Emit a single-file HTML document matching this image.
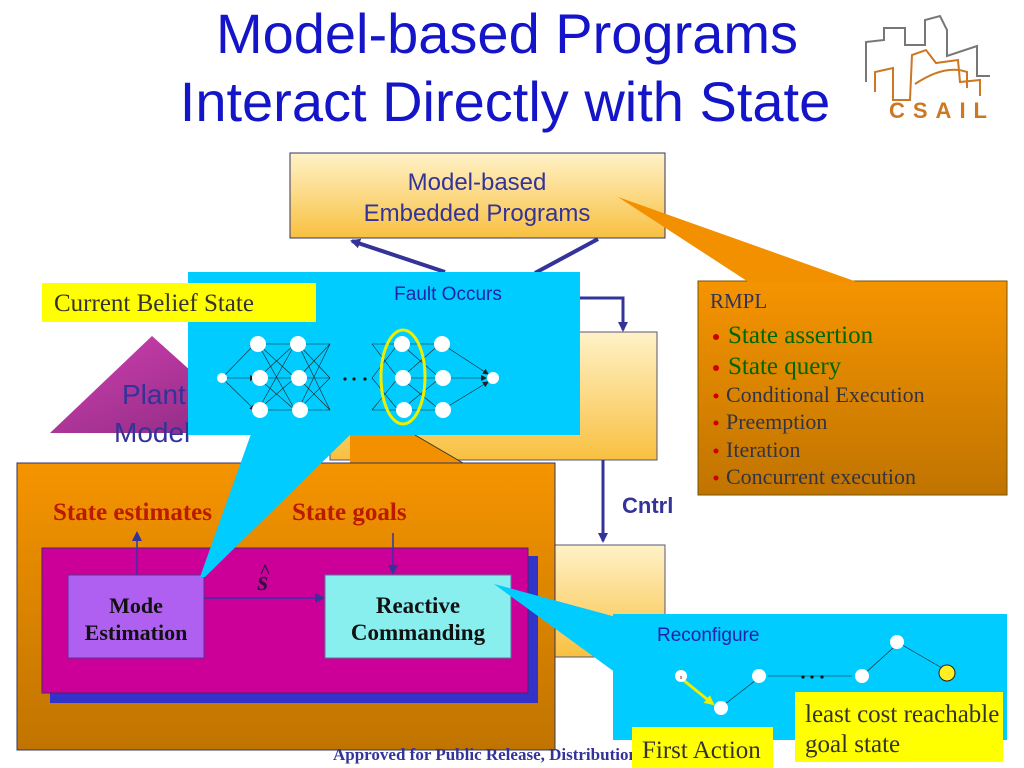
<!DOCTYPE html>
<html><head><meta charset="utf-8"><style>
html,body{margin:0;padding:0;background:#fff;}
svg{display:block;}
</style></head><body>
<svg width="1024" height="768" viewBox="0 0 1024 768" xmlns="http://www.w3.org/2000/svg" font-family="Liberation Sans, sans-serif">
<defs>
<linearGradient id="gy" x1="0" y1="0" x2="0" y2="1"><stop offset="0" stop-color="#fff2c8"/><stop offset="1" stop-color="#f8c040"/></linearGradient>
<linearGradient id="go" x1="0" y1="0" x2="0" y2="1"><stop offset="0" stop-color="#f59400"/><stop offset="1" stop-color="#c07400"/></linearGradient>
<linearGradient id="gp" x1="0" y1="0" x2="1" y2="1"><stop offset="0" stop-color="#d040b0"/><stop offset="1" stop-color="#8a2a80"/></linearGradient>
<marker id="ah" markerWidth="10" markerHeight="10" refX="8" refY="5" orient="auto" markerUnits="userSpaceOnUse"><path d="M0,0 L10,5 L0,10 z" fill="#333399"/></marker>
<marker id="sh" markerWidth="6" markerHeight="6" refX="5" refY="3" orient="auto" markerUnits="userSpaceOnUse"><path d="M0,0 L6,3 L0,6 z" fill="#222"/></marker>
<marker id="yh" markerWidth="10" markerHeight="10" refX="8" refY="5" orient="auto" markerUnits="userSpaceOnUse"><path d="M0,0 L10,5 L0,10 z" fill="#eeee00"/></marker>
</defs>

<!-- Title -->
<text x="507" y="53" text-anchor="middle" font-size="56" fill="#1414c8">Model-based Programs</text>
<text x="505" y="121" text-anchor="middle" font-size="56" fill="#1414c8">Interact Directly with State</text>

<!-- Logo -->
<g fill="none" stroke-width="2">
<polyline points="866,82 866,42 884,40 884,28 905,28 905,45 925,45 925,20 940,16 947,30 947,56 977,46 977,76 990,76" stroke="#777"/>
<polyline points="875,92 875,72 893,68 893,100 910,100 912,55 926,50 936,63 958,60 960,82 980,80 980,96" stroke="#cc7722"/>
<path d="M915,84 Q945,64 967,72 L967,88" stroke="#cc7722"/>
</g>
<text x="942" y="118" text-anchor="middle" font-size="22" font-weight="bold" letter-spacing="8" fill="#cc7722">CSAIL</text>

<!-- Top box -->
<rect x="290" y="153" width="375" height="85" fill="url(#gy)" stroke="#333366" stroke-width="1"/>
<text x="477" y="190" text-anchor="middle" font-size="24" fill="#333399">Model-based</text>
<text x="477" y="221" text-anchor="middle" font-size="24" fill="#333399">Embedded Programs</text>

<!-- arrows from fault box to top box -->
<line x1="445" y1="272" x2="352" y2="241" stroke="#333399" stroke-width="4" marker-end="url(#ah)"/>
<line x1="535" y1="273" x2="598" y2="239" stroke="#333399" stroke-width="4"/>
<polyline points="580,298 623,298 623,330" fill="none" stroke="#333399" stroke-width="3" marker-end="url(#ah)"/>

<!-- Middle gradient boxes -->
<rect x="330" y="332" width="327" height="128" fill="url(#gy)" stroke="#555577" stroke-width="1"/>
<line x1="603" y1="460" x2="603" y2="541" stroke="#333399" stroke-width="3" marker-end="url(#ah)"/>
<text x="622" y="513" font-size="22" font-weight="bold" fill="#333399">Cntrl</text>
<rect x="538" y="545" width="127" height="112" fill="url(#gy)" stroke="#555577" stroke-width="1"/>

<!-- RMPL callout -->
<rect x="698" y="281" width="309" height="214" fill="url(#go)" stroke="#775500" stroke-width="1"/>
<polygon points="618,197 750,283 860,283" fill="#f39000" stroke="none"/>
<text x="710" y="308" font-family="Liberation Serif, serif" font-size="21" fill="#333355">RMPL</text>
<g font-family="Liberation Serif, serif">
<circle cx="716" cy="337" r="3" fill="#cc0000"/><text x="728" y="343" font-size="25" fill="#006600">State assertion</text>
<circle cx="716" cy="368" r="3" fill="#cc0000"/><text x="728" y="374" font-size="25" fill="#006600">State query</text>
<circle cx="716" cy="396" r="2.5" fill="#cc0000"/><text x="726" y="402" font-size="22" fill="#333344">Conditional Execution</text>
<circle cx="716" cy="423" r="2.5" fill="#cc0000"/><text x="726" y="429" font-size="22" fill="#333344">Preemption</text>
<circle cx="716" cy="451" r="2.5" fill="#cc0000"/><text x="726" y="457" font-size="22" fill="#333344">Iteration</text>
<circle cx="716" cy="478" r="2.5" fill="#cc0000"/><text x="726" y="484" font-size="22" fill="#333344">Concurrent execution</text>
</g>

<!-- Plant model triangle -->
<polygon points="152,336 50,433 260,433" fill="url(#gp)"/>
<text x="122" y="404" font-size="28" fill="#333399">Plant</text>
<text x="114" y="442" font-size="28" fill="#333399">Model</text>

<!-- Orange big box -->
<polygon points="350,435 415,435 463,463 350,463" fill="#f39000"/>
<line x1="415" y1="435" x2="463" y2="463" stroke="#333" stroke-width="1"/>
<rect x="17" y="463" width="538" height="287" fill="url(#go)" stroke="#333366" stroke-width="1"/>
<text x="53" y="520" font-family="Liberation Serif, serif" font-size="25" font-weight="bold" fill="#bb1a00">State estimates</text>
<text x="292" y="520" font-family="Liberation Serif, serif" font-size="25" font-weight="bold" fill="#bb1a00">State goals</text>

<rect x="50" y="556" width="488" height="147" fill="#3333cc"/>
<rect x="42" y="548" width="486" height="145" fill="#cc0099" stroke="#552266" stroke-width="1"/>
<line x1="137" y1="575" x2="137" y2="533" stroke="#3333aa" stroke-width="1.5" marker-end="url(#ah)"/>
<line x1="393" y1="533" x2="393" y2="573" stroke="#3333aa" stroke-width="1.5" marker-end="url(#ah)"/>
<rect x="68" y="575" width="136" height="83" fill="#b060f0" stroke="#553399" stroke-width="1"/>
<text x="136" y="613" text-anchor="middle" font-family="Liberation Serif, serif" font-size="22" font-weight="bold" fill="#111">Mode</text>
<text x="136" y="640" text-anchor="middle" font-family="Liberation Serif, serif" font-size="22" font-weight="bold" fill="#111">Estimation</text>
<line x1="204" y1="598" x2="323" y2="598" stroke="#3333aa" stroke-width="1.5" marker-end="url(#ah)"/>
<text x="263" y="590" text-anchor="middle" font-family="Liberation Serif, serif" font-size="28" font-style="italic" font-weight="bold" fill="#331144">s</text>
<text x="265" y="578" text-anchor="middle" font-family="Liberation Serif, serif" font-size="20" font-weight="bold" fill="#331144">^</text>
<rect x="325" y="575" width="186" height="83" fill="#88eeee" stroke="#557799" stroke-width="1"/>
<text x="418" y="613" text-anchor="middle" font-family="Liberation Serif, serif" font-size="23" font-weight="bold" fill="#111">Reactive</text>
<text x="418" y="640" text-anchor="middle" font-family="Liberation Serif, serif" font-size="23" font-weight="bold" fill="#111">Commanding</text>

<!-- Fault callout -->
<polygon points="251,434 351,434 205,577 200,577" fill="#00ccff"/>
<rect x="188" y="272" width="392" height="163" fill="#00ccff"/>
<rect x="42" y="283" width="274" height="39" fill="#ffff00"/>
<text x="54" y="311" font-family="Liberation Serif, serif" font-size="25" fill="#333">Current Belief State</text>
<text x="448" y="300" text-anchor="middle" font-size="19" fill="#2222aa">Fault Occurs</text>
<g stroke="#222" stroke-width="0.6" fill="none">
<line x1="222" y1="378" x2="255" y2="344" marker-end="url(#sh)"/><line x1="222" y1="378" x2="255" y2="378" marker-end="url(#sh)"/><line x1="222" y1="378" x2="255" y2="410" marker-end="url(#sh)"/>
<line x1="258" y1="344" x2="295" y2="344"/><line x1="258" y1="344" x2="295" y2="378"/><line x1="258" y1="344" x2="295" y2="410"/>
<line x1="258" y1="378" x2="295" y2="344"/><line x1="258" y1="378" x2="295" y2="378"/><line x1="258" y1="378" x2="295" y2="410"/>
<line x1="258" y1="410" x2="295" y2="344"/><line x1="258" y1="410" x2="295" y2="378"/><line x1="258" y1="410" x2="295" y2="410"/>
<line x1="298" y1="344" x2="330" y2="344"/><line x1="298" y1="344" x2="330" y2="378"/><line x1="298" y1="344" x2="330" y2="410"/>
<line x1="298" y1="378" x2="330" y2="344"/><line x1="298" y1="378" x2="330" y2="378"/><line x1="298" y1="378" x2="330" y2="410"/>
<line x1="298" y1="410" x2="330" y2="344"/><line x1="298" y1="410" x2="330" y2="378"/><line x1="298" y1="410" x2="330" y2="410"/>
<line x1="372" y1="344" x2="398" y2="344"/><line x1="372" y1="344" x2="398" y2="378"/><line x1="372" y1="378" x2="398" y2="344"/><line x1="372" y1="378" x2="398" y2="410"/><line x1="372" y1="410" x2="398" y2="378"/><line x1="372" y1="410" x2="398" y2="410"/>
<line x1="401" y1="344" x2="440" y2="344"/><line x1="401" y1="344" x2="440" y2="378"/><line x1="401" y1="378" x2="440" y2="344"/><line x1="401" y1="378" x2="440" y2="378"/><line x1="401" y1="378" x2="440" y2="410"/><line x1="401" y1="410" x2="440" y2="378"/><line x1="401" y1="410" x2="440" y2="410"/>
<line x1="442" y1="344" x2="488" y2="374" marker-end="url(#sh)"/><line x1="442" y1="378" x2="486" y2="378" marker-end="url(#sh)"/><line x1="442" y1="410" x2="488" y2="382" marker-end="url(#sh)"/>
</g>
<g fill="#fff">
<circle cx="222" cy="378" r="5"/>
<circle cx="258" cy="344" r="8"/><circle cx="260" cy="378" r="8"/><circle cx="260" cy="410" r="8"/>
<circle cx="298" cy="344" r="8"/><circle cx="299" cy="378" r="8"/><circle cx="300" cy="410" r="8"/>
<circle cx="402" cy="344" r="8"/><circle cx="403" cy="378" r="8"/><circle cx="404" cy="410" r="8"/>
<circle cx="442" cy="344" r="8"/><circle cx="443" cy="378" r="8"/><circle cx="443" cy="410" r="8"/>
<circle cx="493" cy="378" r="6"/>
</g>
<g fill="#111"><circle cx="345" cy="379" r="1.6"/><circle cx="354" cy="379" r="1.6"/><circle cx="365" cy="379" r="1.6"/></g>
<ellipse cx="403" cy="377" rx="22" ry="47" fill="none" stroke="#eeee00" stroke-width="3"/>

<!-- Reconfigure callout -->
<polygon points="494,584 616,617 616,673" fill="#00ccff"/>
<rect x="613" y="614" width="394" height="126" fill="#00ccff"/>
<text x="657" y="641" font-size="19" fill="#2222aa">Reconfigure</text>
<g stroke="#222" stroke-width="0.6">
<line x1="720" y1="708" x2="756" y2="680"/>
<line x1="768" y1="676" x2="852" y2="676"/>
<line x1="862" y1="676" x2="893" y2="648"/>
<line x1="897" y1="642" x2="942" y2="668"/>
</g>
<line x1="682" y1="679" x2="713" y2="704" stroke="#eeee00" stroke-width="3" marker-end="url(#yh)"/>
<g fill="#fff"><circle cx="681" cy="676" r="6"/><circle cx="721" cy="708" r="7"/><circle cx="759" cy="676" r="7"/><circle cx="862" cy="676" r="7"/><circle cx="897" cy="642" r="7"/></g>
<g fill="#111"><circle cx="803" cy="677" r="1.6"/><circle cx="812" cy="677" r="1.6"/><circle cx="822" cy="677" r="1.6"/></g>
<circle cx="947" cy="673" r="8" fill="#ffee22" stroke="#222" stroke-width="1"/>
<text x="681" y="679" text-anchor="middle" font-size="5" fill="#a00">s</text>

<text x="333" y="760" font-family="Liberation Serif, serif" font-size="17" font-weight="bold" fill="#333399">Approved for Public Release, Distribution</text>
<rect x="795" y="692" width="208" height="70" fill="#ffff00"/>
<text x="805" y="722" font-family="Liberation Serif, serif" font-size="25" fill="#333">least cost reachable</text>
<text x="805" y="752" font-family="Liberation Serif, serif" font-size="25" fill="#333">goal state</text>
<rect x="632" y="727" width="141" height="41" fill="#ffff00"/>
<text x="642" y="758" font-family="Liberation Serif, serif" font-size="25" fill="#333">First Action</text>
</svg>
</body></html>
